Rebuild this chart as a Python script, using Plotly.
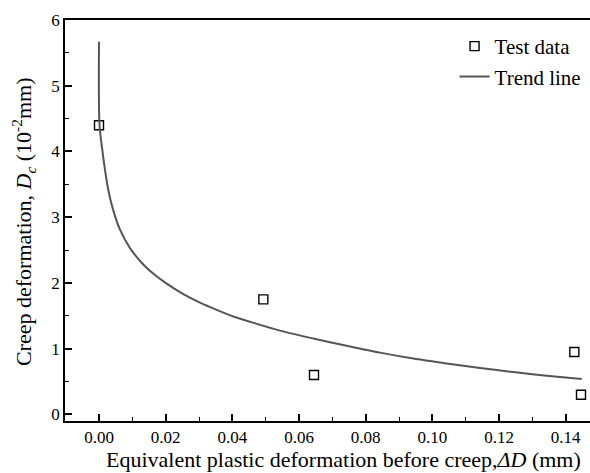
import plotly.graph_objects as go

# Test data
test_x = [0.000, 0.0493, 0.0645, 0.1426, 0.1446]
test_y = [4.40, 1.75, 0.60, 0.95, 0.30]

# Trend line points
trend_x = [0.0000, 0.00015, 0.0010, 0.0018, 0.0028, 0.0043, 0.0063, 0.0093, 0.0133,
           0.0168, 0.0203, 0.0253, 0.0303, 0.0353, 0.0403, 0.0453, 0.0543, 0.0643,
           0.0743, 0.0843, 0.0943, 0.1043, 0.1143, 0.1243, 0.1343, 0.1448]
trend_y = [5.67, 4.41, 4.02, 3.72, 3.41, 3.10, 2.81, 2.53, 2.28,
           2.12, 1.99, 1.83, 1.70, 1.59, 1.49, 1.41, 1.275, 1.155,
           1.045, 0.94, 0.85, 0.775, 0.705, 0.645, 0.59, 0.54]

x_ticks = [0.00, 0.02, 0.04, 0.06, 0.08, 0.10, 0.12, 0.14]
y_ticks = [0, 1, 2, 3, 4, 5, 6]

FONT = "Liberation Serif, Times New Roman, serif"

fig = go.Figure()
fig.add_trace(go.Scatter(
    x=test_x, y=test_y, mode="markers", name="Test data",
    marker=dict(symbol="square-open", size=9, color="black", line=dict(width=1.4, color="black")),
))
fig.add_trace(go.Scatter(
    x=trend_x, y=trend_y, mode="lines", name="Trend line",
    line=dict(color="#555555", width=2, shape="spline", smoothing=0.8),
))

axis_common = dict(
    showgrid=False, zeroline=False, showline=True, linecolor="black", linewidth=1.8,
    ticks="inside", ticklen=7, tickwidth=1.5, tickcolor="black",
    tickfont=dict(family=FONT, size=17, color="black"),
)

fig.update_xaxes(
    range=[-0.0102, 0.1473], tickvals=x_ticks, tickformat=".2f", mirror=True,
    minor=dict(dtick=0.01, tick0=0, ticks="inside", ticklen=4, tickwidth=1.3, tickcolor="black"),
    **axis_common,
)
fig.update_yaxes(
    range=[-0.1, 6], tickvals=y_ticks,
    minor=dict(dtick=0.5, tick0=0, ticks="inside", ticklen=4, tickwidth=1.3, tickcolor="black"),
    **axis_common,
)

fig.update_layout(
    width=590, height=473,
    margin=dict(l=65, r=0, t=20, b=52),
    paper_bgcolor="white", plot_bgcolor="white",
    font=dict(family=FONT, color="black"),
    showlegend=True,
    legend=dict(x=0.742, y=0.985, xanchor="left", yanchor="top",
                font=dict(family=FONT, size=21, color="black"),
                bgcolor="rgba(0,0,0,0)", tracegroupgap=0),
    annotations=[
        dict(text="Equivalent plastic deformation before creep,<i>ΔD</i> (mm)",
             xref="paper", yref="paper", x=(343 - 65) / 525, y=-0.097,
             xanchor="center", yanchor="middle", showarrow=False,
             font=dict(family=FONT, size=22, color="black")),
        dict(text="Creep deformation, <i>D</i><sub><i>c</i></sub> (10<sup>-2</sup>mm)",
             xref="paper", yref="paper", x=-0.078, y=(421 - 222) / 401,
             xanchor="center", yanchor="middle", showarrow=False, textangle=-90,
             font=dict(family=FONT, size=22, color="black")),
    ],
)

fig.write_html("out.html")
